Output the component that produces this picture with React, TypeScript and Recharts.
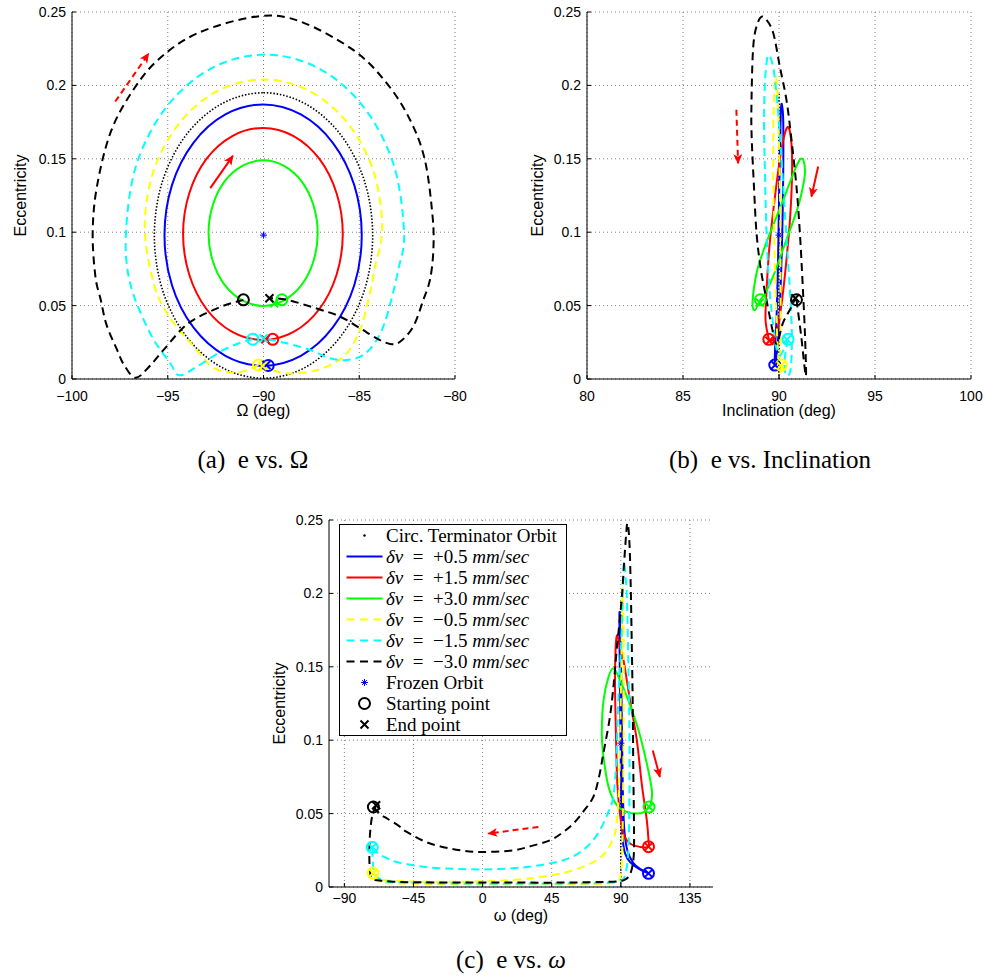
import React from 'react';
import { ComposedChart, Line, Scatter, XAxis, YAxis, CartesianGrid, Legend, Label } from 'recharts';

// ---------- series definitions (order: +0.5, +1.5, +3.0, -0.5, -1.5, -3.0 mm/sec)
const SERIES_DV = ['+0.5', '+1.5', '+3.0', '\u22120.5', '\u22121.5', '\u22123.0'];
const SERIES_COLORS = ['#0000ff', '#ff0000', '#00ff00', '#ffff00', '#00ffff', '#000000'];
const SERIES_DASHED = [false, false, false, true, true, true];
const LEGEND_TEXT = ['Circ. Terminator Orbit', 'Frozen Orbit', 'Starting point', 'End point'];

// ---------- axes
const E_TICKS = [0, 0.05, 0.1, 0.15, 0.2, 0.25];
const RAAN_TICKS = [-100, -95, -90, -85, -80];
const INC_TICKS = [80, 85, 90, 95, 100];
const AOP_TICKS = [-90, -45, 0, 45, 90, 135];

// ---------- (a) e vs RAAN
const A_CIRC = [[-90, 0.195], [-87.82, 0.1875], [-85.97, 0.1664], [-84.73, 0.1349], [-84.3, 0.0977], [-84.73, 0.0605], [-85.97, 0.029], [-87.82, 0.0079], [-90, 0.0005], [-92.18, 0.0079], [-94.03, 0.029], [-95.27, 0.0605], [-95.7, 0.0977], [-95.27, 0.1349], [-94.03, 0.1664], [-92.18, 0.1875], [-90, 0.195]];
const A_BLUE = [[-90.02, 0.009], [-91.99, 0.0158], [-93.66, 0.0351], [-94.78, 0.0639], [-95.17, 0.098], [-94.78, 0.1321], [-93.66, 0.1609], [-91.99, 0.1802], [-90.02, 0.187], [-88.05, 0.1802], [-86.38, 0.1609], [-85.26, 0.1321], [-84.87, 0.098], [-85.26, 0.0639], [-86.38, 0.0351], [-88.05, 0.0158], [-90.02, 0.009]];
const A_RED = [[-90.03, 0.0266], [-91.63, 0.0321], [-92.98, 0.0477], [-93.88, 0.0712], [-94.2, 0.0988], [-93.88, 0.1264], [-92.98, 0.1499], [-91.63, 0.1655], [-90.03, 0.171], [-88.43, 0.1655], [-87.08, 0.1499], [-86.18, 0.1264], [-85.86, 0.0988], [-86.18, 0.0712], [-87.08, 0.0477], [-88.43, 0.0321], [-90.03, 0.0266]];
const A_GREEN = [[-90.02, 0.0498], [-91.11, 0.0536], [-92.04, 0.0643], [-92.65, 0.0804], [-92.87, 0.0994], [-92.65, 0.1184], [-92.04, 0.1345], [-91.11, 0.1452], [-90.02, 0.149], [-88.93, 0.1452], [-88.0, 0.1345], [-87.39, 0.1184], [-87.17, 0.0994], [-87.39, 0.0804], [-88.0, 0.0643], [-88.93, 0.0536], [-90.02, 0.0498]];
const A_YELLOW = [[-90.26, 0.0095], [-91.3, 0.0045], [-92.6, 0.0075], [-93.63, 0.022], [-94.93, 0.0425], [-95.73, 0.065], [-96.2, 0.1035], [-95.73, 0.142], [-94.38, 0.1746], [-92.37, 0.1964], [-90, 0.204], [-87.63, 0.1964], [-85.62, 0.1746], [-84.27, 0.142], [-83.8, 0.1035], [-84.2, 0.075], [-84.52, 0.054], [-84.96, 0.0334], [-85.65, 0.0175], [-86.52, 0.0095], [-87.57, 0.005], [-88.9, 0.004], [-90.0, 0.0085]];
const A_CYAN = [[-90.56, 0.0271], [-91.05, 0.0254], [-92.09, 0.0198], [-93.48, 0.0084], [-94.4, 0.0025], [-94.87, 0.0107], [-95.91, 0.031], [-96.96, 0.065], [-97.18, 0.1], [-96.63, 0.1463], [-95.05, 0.1856], [-92.7, 0.2118], [-89.92, 0.221], [-87.14, 0.2118], [-84.79, 0.1856], [-83.21, 0.1463], [-82.66, 0.1], [-82.95, 0.075], [-83.57, 0.0425], [-84.09, 0.0266], [-84.79, 0.0164], [-85.65, 0.013], [-86.52, 0.0141], [-87.57, 0.0198], [-88.78, 0.0243], [-90.0, 0.0277]];
const A_BLACK = [[-91.05, 0.0539], [-92.26, 0.049], [-93.92, 0.038], [-95.22, 0.0198], [-96.0, 0.008], [-96.7, 0.0008], [-97.3, 0.01], [-97.65, 0.02], [-98.2, 0.037], [-98.5, 0.054], [-98.78, 0.07], [-98.92, 0.1], [-98.7, 0.131], [-98.0, 0.1675], [-96.9, 0.195], [-95.5, 0.2175], [-93.4, 0.2358], [-90.3, 0.247], [-88.09, 0.2436], [-85.3, 0.224], [-83.57, 0.2016], [-82.35, 0.1766], [-81.57, 0.149], [-81.17, 0.1107], [-81.13, 0.088], [-81.3, 0.068], [-81.65, 0.054], [-82.18, 0.0357], [-82.87, 0.0254], [-83.39, 0.0239], [-84.09, 0.0277], [-84.96, 0.0346], [-86.0, 0.0425], [-87.22, 0.048], [-88.78, 0.054], [-89.69, 0.055]];
const A_STARTS = [[-89.75, 0.0092], [-89.52, 0.027], [-89.04, 0.054], [-90.26, 0.0095], [-90.56, 0.0271], [-91.05, 0.0539]];
const A_ENDS = [[-89.85, 0.0095], [-89.9, 0.027], [-89.44, 0.0516], [-90.05, 0.0088], [-90.0, 0.0277], [-89.69, 0.055]];
const A_FROZEN = [[-90, 0.098]];
const A_ARROW_SOLID = [[-92.78, 0.13], [-91.6, 0.152]];
const A_ARROW_DASHED = [[-97.74, 0.189], [-96.0, 0.2216]];

// ---------- (b) e vs inclination
const B_CIRC = [[90, 0.0], [90, 0.195]];
const B_BLUE = [[89.78, 0.0095], [89.8, 0.022], [89.88, 0.045], [89.95, 0.08], [90.0, 0.12], [90.06, 0.16], [90.1, 0.183], [90.15, 0.187], [90.22, 0.176], [90.22, 0.14], [90.17, 0.1], [90.08, 0.06], [89.97, 0.03], [89.85, 0.013], [89.8, 0.0095]];
const B_RED = [[89.47, 0.027], [89.3, 0.04], [89.35, 0.06], [89.5, 0.09], [89.75, 0.12], [90.05, 0.15], [90.3, 0.167], [90.5, 0.1714], [90.65, 0.16], [90.68, 0.14], [90.58, 0.11], [90.38, 0.08], [90.17, 0.055], [89.95, 0.036], [89.72, 0.027], [89.5, 0.026]];
const B_GREEN = [[89.03, 0.054], [88.75, 0.047], [88.62, 0.052], [88.83, 0.072], [89.15, 0.086], [89.52, 0.099], [90.22, 0.122], [90.91, 0.145], [91.22, 0.15], [91.35, 0.14], [91.09, 0.122], [90.75, 0.108], [90.39, 0.095], [89.7, 0.07], [89.3, 0.059], [89.03, 0.054]];
const B_YELLOW = [[90.13, 0.0095], [90.05, 0.004], [90.08, 0.03], [90.08, 0.07], [90.06, 0.12], [90.0, 0.16], [89.93, 0.193], [89.83, 0.206], [89.74, 0.193], [89.7, 0.16], [89.72, 0.12], [89.8, 0.07], [89.9, 0.03], [90.0, 0.012], [90.1, 0.009]];
const B_CYAN = [[90.47, 0.027], [90.3, 0.014], [90.35, 0.003], [90.6, 0.006], [90.67, 0.031], [90.55, 0.065], [90.42, 0.09], [90.25, 0.125], [90.08, 0.16], [89.9, 0.19], [89.7, 0.212], [89.44, 0.2205], [89.28, 0.205], [89.22, 0.175], [89.27, 0.14], [89.35, 0.1], [89.48, 0.065], [89.65, 0.042], [89.85, 0.022], [90.05, 0.016], [90.3, 0.022], [90.42, 0.027]];
const B_BLACK = [[90.91, 0.054], [91.15, 0.03], [91.4, 0.002], [91.35, 0.031], [91.23, 0.065], [91.09, 0.099], [90.91, 0.131], [90.65, 0.163], [90.39, 0.19], [90.04, 0.213], [89.7, 0.2357], [89.3, 0.2455], [89.02, 0.246], [88.75, 0.236], [88.63, 0.22], [88.57, 0.19], [88.57, 0.1675], [88.7, 0.13], [88.83, 0.0993], [89.05, 0.075], [89.35, 0.0539], [89.7, 0.031], [89.9, 0.0243], [90.2, 0.038], [90.56, 0.047], [90.85, 0.055]];
const B_STARTS = [[89.78, 0.0095], [89.47, 0.027], [89.03, 0.054], [90.13, 0.0095], [90.47, 0.027], [90.91, 0.054]];
const B_ENDS = [[89.8, 0.0095], [89.5, 0.026], [89.0, 0.052], [90.1, 0.009], [90.42, 0.027], [90.85, 0.055]];
const B_FROZEN = [[90, 0.098]];
const B_ARROW_SOLID = [[92.04, 0.1448], [91.69, 0.1243]];
const B_ARROW_DASHED = [[87.78, 0.1834], [87.87, 0.147]];

// ---------- (c) e vs argument of perigee
const C_CIRC = [[90, 0.0], [90, 0.195]];
const C_BLUE = [[108, 0.0093], [101.5, 0.0125], [96, 0.017], [92.8, 0.0227], [91.3, 0.0318], [90.5, 0.05], [90.0, 0.08], [89.6, 0.12], [89.2, 0.16], [89.1, 0.187], [89.7, 0.172], [90.3, 0.14], [90.8, 0.1], [91.3, 0.065], [92.2, 0.04], [94.2, 0.025], [98, 0.0165], [103, 0.012], [107.8, 0.0095]];
const C_RED = [[108, 0.0275], [102.5, 0.0273], [96, 0.0296], [91.7, 0.0364], [89.4, 0.05], [87.7, 0.0705], [86.8, 0.1045], [86.2, 0.1386], [86.6, 0.163], [87.5, 0.1716], [89.3, 0.164], [91.7, 0.1546], [96, 0.127], [100.4, 0.1], [103.6, 0.0705], [106.9, 0.0455], [108, 0.0318], [107.9, 0.0278]];
const C_GREEN = [[108.3, 0.0545], [105, 0.051], [100.4, 0.05], [93.9, 0.0511], [87.4, 0.0557], [82, 0.0682], [78.7, 0.0886], [77.6, 0.1046], [78.7, 0.127], [82, 0.1432], [85.2, 0.1489], [89.5, 0.1409], [94.9, 0.127], [101.5, 0.1068], [106.9, 0.0841], [110.2, 0.0659], [109.6, 0.057], [108.3, 0.0545]];
const C_YELLOW = [[-71.3, 0.0095], [-68, 0.0055], [-62, 0.0045], [-45, 0.0037], [-20, 0.0036], [3, 0.004], [20, 0.0048], [35, 0.0064], [50, 0.009], [59, 0.0114], [67, 0.0145], [74.3, 0.0182], [79.5, 0.023], [83, 0.0285], [86.5, 0.038], [88.5, 0.06], [89.4, 0.09], [90, 0.13], [90.6, 0.17], [91.2, 0.2035], [91.7, 0.18], [91.9, 0.14], [91.7, 0.09], [91.3, 0.05], [90.8, 0.02], [89.5, 0.0065], [85, 0.0028], [70, 0.0022], [45, 0.002], [20, 0.002], [-10, 0.002], [-40, 0.0022], [-60, 0.0026], [-67, 0.0035], [-70.3, 0.006], [-71.3, 0.009]];
const C_CYAN = [[-71.8, 0.027], [-67.9, 0.0228], [-62, 0.0195], [-55.9, 0.017], [-45, 0.0148], [-34.2, 0.0132], [-17, 0.0123], [0.5, 0.012], [15, 0.0125], [28.7, 0.0136], [41, 0.0155], [52.5, 0.0182], [61, 0.022], [67.8, 0.0273], [73.5, 0.034], [78.6, 0.0432], [82.2, 0.052], [85.1, 0.0614], [87, 0.085], [88.3, 0.127], [89.5, 0.15], [90.5, 0.1727], [91.3, 0.2], [92.0, 0.2216], [93.2, 0.21], [94, 0.1955], [94.9, 0.15], [95.6, 0.105], [95.6, 0.06], [94.9, 0.025], [93.2, 0.01], [90.5, 0.0045], [80, 0.0028], [60, 0.0025], [20, 0.0024], [-20, 0.0025], [-50, 0.003], [-65, 0.0045], [-70.5, 0.01], [-71.6, 0.02], [-71.8, 0.026]];
const C_BLACK = [[-71.1, 0.0545], [-66.5, 0.0495], [-62, 0.0465], [-55, 0.042], [-49.4, 0.0375], [-34.2, 0.0296], [-14.7, 0.025], [0.5, 0.0239], [20, 0.025], [32, 0.028], [43.9, 0.0318], [52, 0.037], [59.1, 0.0432], [66, 0.052], [72.1, 0.0614], [75.8, 0.075], [78.6, 0.0909], [82.9, 0.1159], [85.5, 0.14], [87.3, 0.1614], [90.5, 0.1955], [92.7, 0.2295], [94.2, 0.2477], [95.5, 0.2364], [96.4, 0.2068], [97.0, 0.1727], [97.7, 0.1273], [98.1, 0.0818], [98.6, 0.0364], [98.3, 0.02], [96.5, 0.01], [93.5, 0.0055], [88, 0.0038], [75, 0.0034], [50, 0.003], [20, 0.003], [-10, 0.003], [-40, 0.0032], [-58, 0.0036], [-67, 0.0045], [-72.2, 0.006], [-73.6, 0.015], [-73.6, 0.03], [-72.8, 0.042], [-71.5, 0.05], [-69.3, 0.0557]];
const C_STARTS = [[108, 0.0093], [108, 0.0275], [108.4, 0.0545], [-71.3, 0.0095], [-71.8, 0.027], [-71.1, 0.0545]];
const C_ENDS = [[108, 0.0093], [108, 0.0275], [108.4, 0.0545], [-71.3, 0.0095], [-71.8, 0.027], [-69.3, 0.0557]];
const C_FROZEN = [[90, 0.098]];
const C_ARROW_SOLID = [[110.8, 0.093], [115.4, 0.075]];
const C_ARROW_DASHED = [[36.3, 0.0409], [3.7, 0.0364]];

// ---------- helpers
const toPts = (arr: number[][]) => arr.map(([x, y]) => ({ x, y }));
const fmt = (v: number) => String(v).replace('-', '\u2212');

// Catmull-Rom curve factory (passes through all points, works for loops)
const smoothCurve = (context: any) => {
  let pts: number[][] = [];
  return {
    areaStart() {},
    areaEnd() {},
    lineStart() { pts = []; },
    point(x: number, y: number) { pts.push([+x, +y]); },
    lineEnd() {
      const n = pts.length;
      if (!n) return;
      context.moveTo(pts[0][0], pts[0][1]);
      if (n === 1) return;
      const closed = n > 3 && Math.hypot(pts[0][0] - pts[n - 1][0], pts[0][1] - pts[n - 1][1]) < 0.5;
      const get = (i: number) => {
        if (closed) { const m = n - 1; return pts[((i % m) + m) % m]; }
        return pts[Math.max(0, Math.min(n - 1, i))];
      };
      for (let i = 0; i < n - 1; i++) {
        const p0 = get(i - 1), p1 = pts[i], p2 = pts[i + 1], p3 = get(i + 2);
        context.bezierCurveTo(
          p1[0] + (p2[0] - p0[0]) / 6, p1[1] + (p2[1] - p0[1]) / 6,
          p2[0] - (p3[0] - p1[0]) / 6, p2[1] - (p3[1] - p1[1]) / 6,
          p2[0], p2[1]
        );
      }
    },
  };
};

const circleShape = (color: string) => (p: any) => (
  <circle cx={p.cx} cy={p.cy} r={5.5} fill="none" stroke={color} strokeWidth={2} />
);
const crossShape = (color: string) => (p: any) => (
  <path d={`M${p.cx - 4},${p.cy - 4}L${p.cx + 4},${p.cy + 4}M${p.cx - 4},${p.cy + 4}L${p.cx + 4},${p.cy - 4}`} stroke={color} strokeWidth={2} fill="none" />
);
const starPath = (cx: number, cy: number, s: number) =>
  `M${cx - s},${cy}L${cx + s},${cy}M${cx},${cy - s}L${cx},${cy + s}M${cx - s * 0.7},${cy - s * 0.7}L${cx + s * 0.7},${cy + s * 0.7}M${cx - s * 0.7},${cy + s * 0.7}L${cx + s * 0.7},${cy - s * 0.7}`;
const starShape = (p: any) => <path d={starPath(p.cx, p.cy, 3.5)} stroke="#0000ff" strokeWidth={1} fill="none" />;

const TICK_STYLE = { fill: '#000', fontSize: 14, fontFamily: 'Liberation Sans, Arial, sans-serif' };
const LABEL_FONT = 'Liberation Sans, Arial, sans-serif';
const DASH = '8 5';

// ---------- legend
const LegendSample = ({ kind, color, dashed }: any) => (
  <svg width={46} height={21} style={{ display: 'block', flex: '0 0 46px' }}>
    {kind === 'line' && <line x1={6.5} x2={42.5} y1={10.5} y2={10.5} stroke={color} strokeWidth={2} strokeDasharray={dashed ? '8 5.5' : undefined} />}
    {kind === 'dot' && <circle cx={24.5} cy={10.5} r={1.2} fill="#000" />}
    {kind === 'star' && <path d={starPath(24.5, 10.5, 3.5)} stroke="#0000ff" strokeWidth={1} fill="none" />}
    {kind === 'circle' && <circle cx={24.5} cy={10.5} r={5.5} fill="none" stroke="#000" strokeWidth={2} />}
    {kind === 'x' && <path d="M20.5,6.5L28.5,14.5M20.5,14.5L28.5,6.5" stroke="#000" strokeWidth={2} />}
  </svg>
);

const LegendBox = () => {
  const row = (key: string, sample: any, text: any) => (
    <div key={key} style={{ display: 'flex', alignItems: 'center', height: 21 }}>
      {sample}
      <span style={{ whiteSpace: 'pre', lineHeight: '21px' }}>{text}</span>
    </div>
  );
  return (
    <div style={{ width: 228, height: 212, boxSizing: 'border-box', border: '1.5px solid #000', background: '#fff', fontFamily: 'Liberation Serif, serif', fontSize: 19, color: '#000', paddingTop: 0 }}>
      {row('circ', <LegendSample kind="dot" />, LEGEND_TEXT[0])}
      {SERIES_DV.map((dv, i) =>
        row('s' + i, <LegendSample kind="line" color={SERIES_COLORS[i]} dashed={SERIES_DASHED[i]} />,
          <span><i>δv</i>{'\u2002=\u2002'}{dv}{' '}<i>mm</i>/<i>sec</i></span>)
      )}
      {row('frozen', <LegendSample kind="star" />, LEGEND_TEXT[1])}
      {row('start', <LegendSample kind="circle" />, LEGEND_TEXT[2])}
      {row('end', <LegendSample kind="x" />, LEGEND_TEXT[3])}
    </div>
  );
};

// ---------- panel
const Panel = ({ cfg }: any) => {
  const { id, width, height, margin, yAxisWidth, xAxisHeight, xTickMargin, xDomain, xTicks, xLabel, xLabelOffset, yLabelOffset, circ, paths, starts, ends, frozen, arrowSolid, arrowDashed, legend } = cfg;
  return (
    <ComposedChart width={width} height={height} margin={margin}>
      <defs>
        <marker id={`${id}-ah`} viewBox="0 0 10 10" refX="9" refY="5" markerWidth="11" markerHeight="10" markerUnits="userSpaceOnUse" orient="auto">
          <path d="M0,0.5 L10,5 L0,9.5 L2.5,5 Z" fill="#ff0000" />
        </marker>
      </defs>
      <CartesianGrid stroke="#808080" strokeDasharray="1 3" horizontalValues={E_TICKS} verticalValues={xTicks} />
      <XAxis type="number" dataKey="x" domain={xDomain} ticks={xTicks} interval={0} allowDataOverflow height={xAxisHeight}
        stroke="#000" tick={TICK_STYLE} tickSize={-4} tickMargin={xTickMargin} tickFormatter={fmt}>
        <Label value={xLabel} position="insideBottom" offset={xLabelOffset} fill="#000" fontSize={16} fontFamily={LABEL_FONT} />
      </XAxis>
      <YAxis type="number" dataKey="y" domain={[0, 0.25]} ticks={E_TICKS} interval={0} allowDataOverflow width={yAxisWidth}
        stroke="#000" tick={TICK_STYLE} tickSize={-4} tickMargin={10} tickFormatter={fmt}>
        <Label value="Eccentricity" angle={-90} position="insideLeft" offset={yLabelOffset} fill="#000" fontSize={16} fontFamily={LABEL_FONT} style={{ textAnchor: 'middle' }} />
      </YAxis>
      <Line data={toPts(circ)} dataKey="y" type={smoothCurve as any} stroke="#000" strokeWidth={1.6} strokeDasharray="1.5 1.8"
        dot={false} activeDot={false} isAnimationActive={false} />
      {paths.map((p: number[][], i: number) => (
        <Line key={'p' + i} data={toPts(p)} dataKey="y" type={smoothCurve as any} stroke={SERIES_COLORS[i]} strokeWidth={2}
          strokeDasharray={SERIES_DASHED[i] ? DASH : undefined} dot={false} activeDot={false} isAnimationActive={false} />
      ))}
      {starts.map((p: number[], i: number) => (
        <Scatter key={'s' + i} data={toPts([p])} dataKey="y" shape={circleShape(SERIES_COLORS[i])} isAnimationActive={false} />
      ))}
      {ends.map((p: number[], i: number) => (
        <Scatter key={'e' + i} data={toPts([p])} dataKey="y" shape={crossShape(SERIES_COLORS[i])} isAnimationActive={false} />
      ))}
      <Scatter data={toPts(frozen)} dataKey="y" shape={starShape} isAnimationActive={false} />
      <Line data={toPts(arrowSolid)} dataKey="y" type="linear" stroke="#ff0000" strokeWidth={2} markerEnd={`url(#${id}-ah)`}
        dot={false} activeDot={false} isAnimationActive={false} />
      <Line data={toPts(arrowDashed)} dataKey="y" type="linear" stroke="#ff0000" strokeWidth={2} strokeDasharray="6 4" markerEnd={`url(#${id}-ah)`}
        dot={false} activeDot={false} isAnimationActive={false} />
      {legend && (
        <Legend layout="vertical" align="center" verticalAlign="middle"
          wrapperStyle={{ left: 89, top: 24, width: 228, height: 212 }} content={() => <LegendBox />} />
      )}
    </ComposedChart>
  );
};

const PANEL_A = {
  id: 'pa', width: 480, height: 430, margin: { top: 12, right: 25, bottom: 0, left: 0 }, yAxisWidth: 72, xAxisHeight: 51, xTickMargin: 16,
  xDomain: [-100, -80], xTicks: RAAN_TICKS, xLabel: '\u03A9 (deg)', xLabelOffset: 14, yLabelOffset: 20,
  circ: A_CIRC, paths: [A_BLUE, A_RED, A_GREEN, A_YELLOW, A_CYAN, A_BLACK], starts: A_STARTS, ends: A_ENDS, frozen: A_FROZEN,
  arrowSolid: A_ARROW_SOLID, arrowDashed: A_ARROW_DASHED, legend: false,
};
const PANEL_B = {
  id: 'pb', width: 485, height: 430, margin: { top: 12, right: 14, bottom: 0, left: 0 }, yAxisWidth: 87, xAxisHeight: 51, xTickMargin: 16,
  xDomain: [80, 100], xTicks: INC_TICKS, xLabel: 'Inclination (deg)', xLabelOffset: 14, yLabelOffset: 37,
  circ: B_CIRC, paths: [B_BLUE, B_RED, B_GREEN, B_YELLOW, B_CYAN, B_BLACK], starts: B_STARTS, ends: B_ENDS, frozen: B_FROZEN,
  arrowSolid: B_ARROW_SOLID, arrowDashed: B_ARROW_DASHED, legend: false,
};
const PANEL_C = {
  id: 'pc', width: 490, height: 430, margin: { top: 20, right: 27, bottom: 0, left: 0 }, yAxisWidth: 79, xAxisHeight: 43, xTickMargin: 10,
  xDomain: [-100, 150], xTicks: AOP_TICKS, xLabel: '\u03C9 (deg)', xLabelOffset: 9, yLabelOffset: 29,
  circ: C_CIRC, paths: [C_BLUE, C_RED, C_GREEN, C_YELLOW, C_CYAN, C_BLACK], starts: C_STARTS, ends: C_ENDS, frozen: C_FROZEN,
  arrowSolid: C_ARROW_SOLID, arrowDashed: C_ARROW_DASHED, legend: true,
};

const CAPTION_STYLE: any = { position: 'absolute', width: 400, textAlign: 'center', fontFamily: 'Liberation Serif, serif', fontSize: 25, lineHeight: '30px', whiteSpace: 'pre', color: '#000' };

export default function App() {
  return (
    <div style={{ position: 'absolute', left: 0, top: 0, width: 985, height: 980, background: '#fff', overflow: 'hidden' }}>
      <div style={{ position: 'absolute', left: 0, top: 0 }}><Panel cfg={PANEL_A} /></div>
      <div style={{ position: 'absolute', left: 500, top: 0 }}><Panel cfg={PANEL_B} /></div>
      <div style={{ position: 'absolute', left: 250, top: 500 }}><Panel cfg={PANEL_C} /></div>
      <div style={{ ...CAPTION_STYLE, left: 253 - 200, top: 445 }}>{'(a)  e vs. \u03A9'}</div>
      <div style={{ ...CAPTION_STYLE, left: 770 - 200, top: 445 }}>{'(b)  e vs. Inclination'}</div>
      <div style={{ ...CAPTION_STYLE, left: 511 - 200, top: 945 }}>{'(c)  e vs. '}<i>{'\u03C9'}</i></div>
    </div>
  );
}
